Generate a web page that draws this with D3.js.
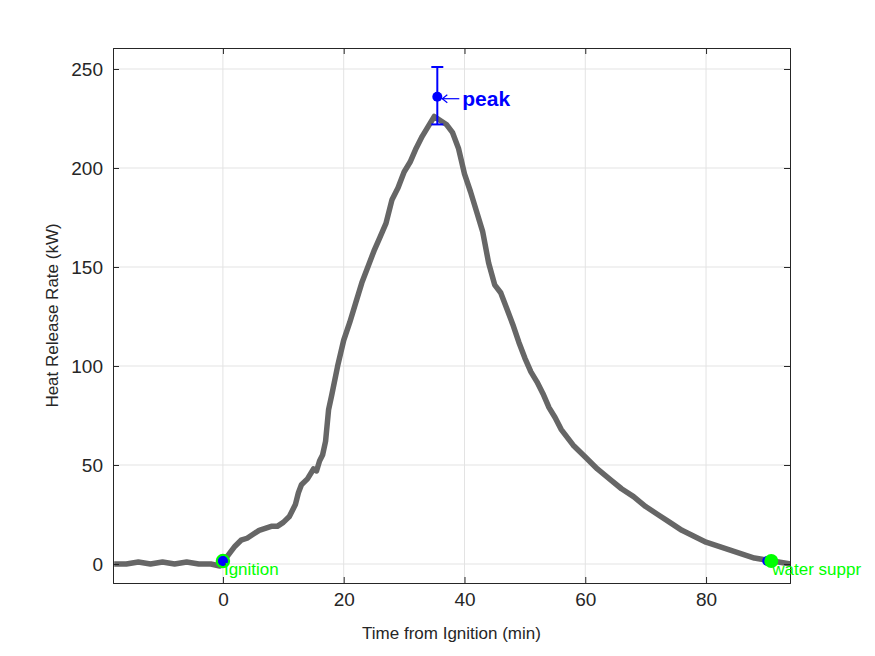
<!DOCTYPE html>
<html>
<head>
<meta charset="utf-8" />
<script src="https://d3js.org/d3.v7.min.js"></script>
<style>body{margin:0;background:#fff} text{font-family:"Liberation Sans",Arial,sans-serif}</style>
</head>
<body>
<svg id="chart" width="875" height="656"></svg>
<script>
// data
var timeMin = [-18,-16,-14,-12,-10,-8,-6,-4,-2,-0.5,0,1,2,3,4,5,6,7,8,9,10,11,12,12.5,13,14,15,15.5,16,16.5,17,17.5,18,19,20,21,22,23,24,25,26,27,28,29,30,31,32,33,34,35,36,37,38,39,40,41,42,43,44,45,46,47,48,49,50,51,52,53,54,55,56,58,60,62,64,66,68,70,72,74,76,78,80,82,84,86,88,90,92,94];
var hrr = [0,0,1,0,1,0,1,0,0,-1,1,5,9,12,13,15,17,18,19,19,21,24,30,36,40,43,48,47,52,55,62,78,85,100,113,122,132,142,150,158,165,172,184,190,198,203,210,216,221,226,224,222,218,210,197,188,178,168,152,141,137,129,121,112,104,97,92,86,79,74,68,60,54,48,43,38,34,29,25,21,17,14,11,9,7,5,3,2,1,0];
var xTicks = [0,20,40,60,80];
var yTicks = [0,50,100,150,200,250];
var events = [{name:"Ignition", t:0, v:1.5}, {name:"water suppr", t:90.8, v:1.5}];
var peak = {name:"peak", t:35.5, v:236, lo:222, hi:251};

var svg = d3.select("#chart");
var L = 113, R = 790, T = 48, B = 583;
var x = d3.scaleLinear().domain([-18.2, 93.9]).range([L, R]);
var y = d3.scaleLinear().domain([-9.6, 260.6]).range([B, T]);

// grid
svg.selectAll(".gx").data(xTicks).enter().append("line")
  .attr("x1", d => x(d)).attr("x2", d => x(d)).attr("y1", T).attr("y2", B)
  .attr("stroke", "#e3e3e3");
svg.selectAll(".gy").data(yTicks).enter().append("line")
  .attr("y1", d => y(d)).attr("y2", d => y(d)).attr("x1", L).attr("x2", R)
  .attr("stroke", "#e3e3e3");

// curve
svg.append("path").datum(d3.zip(timeMin, hrr))
  .attr("fill", "none").attr("stroke", "#666").attr("stroke-width", 5.5)
  .attr("stroke-linejoin", "round")
  .attr("d", d3.line().x(d => x(d[0])).y(d => y(d[1])));

// axes box
var ax = d3.axisBottom(x).tickValues(xTicks).tickSize(-6).tickPadding(10);
var ay = d3.axisLeft(y).tickValues(yTicks).tickSize(-6).tickPadding(10);
svg.append("g").attr("transform", "translate(0," + B + ")").call(ax);
svg.append("g").attr("transform", "translate(" + L + ",0)").call(ay);
svg.append("g").attr("transform", "translate(0," + T + ")").call(d3.axisTop(x).tickValues(xTicks).tickSize(-6).tickFormat(""));
svg.append("g").attr("transform", "translate(" + R + ",0)").call(d3.axisRight(y).tickValues(yTicks).tickSize(-6).tickFormat(""));
svg.selectAll(".domain").attr("stroke", "#262626");
svg.selectAll(".tick line").attr("stroke", "#262626");
svg.selectAll(".tick text").attr("fill", "#262626").style("font-size", "19px");

svg.append("text").attr("x", (L + R) / 2).attr("y", 639).attr("text-anchor", "middle")
  .style("font-size", "17px").attr("fill", "#262626").text("Time from Ignition (min)");
svg.append("text").attr("transform", "translate(58," + (T + B) / 2 + ") rotate(-90)")
  .attr("text-anchor", "middle").style("font-size", "17px").attr("fill", "#262626")
  .text("Heat Release Rate (kW)");

// events
events.forEach(function (e, i) {
  svg.append("circle").attr("cx", x(e.t) + (i ? -4 : 0)).attr("cy", y(e.v)).attr("r", 5).attr("fill", "blue");
  svg.append("circle").attr("cx", x(e.t)).attr("cy", y(e.v)).attr("r", i ? 7 : 6)
    .attr("fill", i ? "#00ff00" : "none").attr("stroke", "#00ff00").attr("stroke-width", i ? 0 : 2.5);
  if (!i) svg.append("circle").attr("cx", x(e.t)).attr("cy", y(e.v)).attr("r", 5).attr("fill", "blue");
  svg.append("text").attr("x", x(e.t) + 1).attr("y", y(e.v) + 14)
    .style("font-size", "17px").attr("fill", "#00ff00").text(e.name);
});

// peak with error bar
var px = x(peak.t);
svg.append("line").attr("x1", px).attr("x2", px).attr("y1", y(peak.lo)).attr("y2", y(peak.hi)).attr("stroke", "blue").attr("stroke-width", 2);
[peak.lo, peak.hi].forEach(function (v) {
  svg.append("line").attr("x1", px - 6).attr("x2", px + 6).attr("y1", y(v)).attr("y2", y(v)).attr("stroke", "blue").attr("stroke-width", 2);
});
svg.append("circle").attr("cx", px).attr("cy", y(peak.v)).attr("r", 5).attr("fill", "blue");
svg.append("line").attr("x1", px + 5).attr("x2", px + 22).attr("y1", y(peak.v) + 2).attr("y2", y(peak.v) + 2).attr("stroke", "blue").attr("stroke-width", 1.2);
svg.append("path").attr("d", "M" + (px + 10) + "," + (y(peak.v) - 2) + "L" + (px + 5) + "," + (y(peak.v) + 2) + "L" + (px + 10) + "," + (y(peak.v) + 6))
  .attr("fill", "none").attr("stroke", "blue").attr("stroke-width", 1.2);
svg.append("text").attr("x", px + 25).attr("y", y(peak.v) + 9).style("font-size", "21px")
  .style("font-weight", "bold").attr("fill", "blue").text(peak.name);
</script>
</body>
</html>
